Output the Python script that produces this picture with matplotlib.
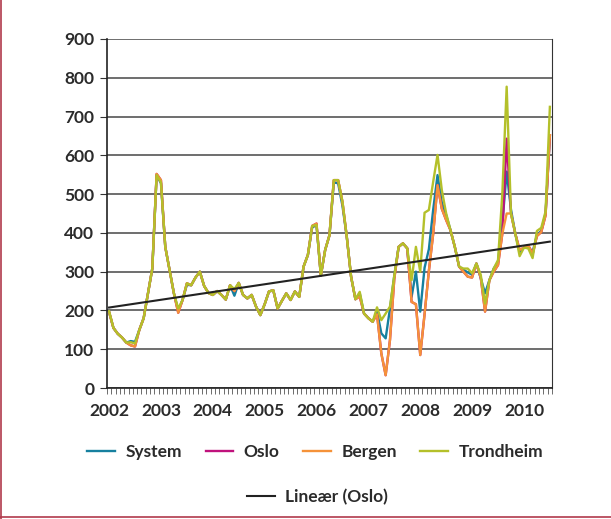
import matplotlib
matplotlib.use("Agg")
import matplotlib.pyplot as plt
from matplotlib.lines import Line2D
import numpy as np

plt.rcParams['font.family'] = ['Lato', 'DejaVu Sans']

# monthly prices, Jan 2002 - Jul 2010
system = [196, 155, 140, 130, 117, 121, 119, 150, 180, 244,
          308, 549, 528, 364, 304, 244, 200, 227, 266, 265,
          285, 300, 263, 245, 240, 250, 240, 228, 265, 238,
          271, 240, 231, 240, 210, 188, 216, 249, 252, 205,
          225, 244, 227, 249, 235, 313, 343, 414, 420, 290,
          356, 394, 530, 528, 470, 390, 287, 229, 244, 192,
          180, 171, 198, 141, 128, 205, 290, 364, 373, 360,
          235, 300, 197, 310, 358, 460, 549, 478, 446, 407,
          364, 313, 305, 298, 292, 321, 283, 244, 278, 308,
          325, 424, 558, 460, 398, 350, 362, 365, 350, 395,
          405, 450, 650]
bergen = [196, 155, 140, 130, 117, 110, 107, 150, 180, 244,
          308, 552, 536, 364, 304, 244, 194, 227, 270, 265,
          285, 300, 263, 245, 240, 250, 240, 228, 265, 250,
          271, 240, 231, 240, 210, 188, 216, 249, 252, 205,
          225, 244, 227, 249, 235, 313, 343, 418, 424, 290,
          356, 394, 536, 536, 480, 390, 287, 229, 236, 192,
          180, 171, 190, 89, 33, 124, 282, 364, 373, 360,
          222, 216, 85, 190, 302, 398, 523, 462, 433, 407,
          364, 313, 300, 287, 285, 321, 285, 197, 278, 300,
          317, 398, 450, 450, 398, 356, 362, 368, 345, 392,
          402, 445, 652]
oslo = list(bergen)
oslo[92] = 643
trondheim = [198, 155, 140, 130, 117, 118, 115, 150, 180, 244,
             308, 549, 530, 364, 304, 244, 205, 227, 270, 265,
             285, 300, 263, 245, 240, 250, 240, 228, 265, 255,
             271, 240, 231, 240, 210, 188, 216, 249, 252, 205,
             225, 244, 227, 249, 235, 313, 343, 418, 420, 290,
             356, 394, 536, 536, 480, 390, 287, 229, 248, 192,
             180, 171, 208, 175, 192, 210, 290, 364, 373, 360,
             278, 364, 300, 452, 459, 532, 601, 510, 450, 407,
             364, 313, 308, 308, 296, 321, 292, 218, 278, 308,
             330, 502, 777, 450, 398, 340, 362, 360, 335, 405,
             413, 455, 725]
year_labels = ['2002', '2003', '2004', '2005', '2006', '2007', '2008', '2009', '2010']

x = np.arange(len(system))

fig = plt.figure(figsize=(6.11, 5.19), dpi=100)
ax = fig.add_axes([0.175, 0.2524, 0.7285, 0.6725])

ax.set_ylim(0, 900)
ax.set_xlim(-0.5, len(x) - 0.5)
ax.set_yticks(range(0, 1000, 100))
ax.yaxis.grid(True, color='#555555', linewidth=1.2)
ax.set_axisbelow(True)

l1, = ax.plot(x, system, color='#16809f', lw=1.7)
l2, = ax.plot(x, oslo, color='#c0127c', lw=1.7)
l3, = ax.plot(x, bergen, color='#f59239', lw=1.7)
l4, = ax.plot(x, trondheim, color='#b4c02a', lw=1.7)

# linear trend on Oslo
k, m = np.polyfit(x, oslo, 1)
l5, = ax.plot(x, k * x + m, color='#222222', lw=1.5)

for s in ['left', 'bottom']:
    ax.spines[s].set_color('#222222')
    ax.spines[s].set_linewidth(1.2)
ax.spines['right'].set_color('#333333')
ax.spines['top'].set_visible(False)

ax.set_xticks(np.arange(0, len(x), 12))
ax.set_xticklabels(year_labels)
ax.set_xticks(np.arange(-0.5, len(x), 1), minor=True)
ax.tick_params(axis='x', which='major', length=0, pad=11)
ax.tick_params(axis='x', which='minor', length=4, color='#555555', direction='out')
ax.tick_params(axis='y', length=5, color='#333333', pad=4)
for lab in ax.get_xticklabels() + ax.get_yticklabels():
    lab.set_fontsize(12.5)
    lab.set_fontweight('bold')
    lab.set_color('#2b2b2b')

leg1 = fig.legend([l1, l2, l3, l4], ['System', 'Oslo', 'Bergen', 'Trondheim'],
                  loc='center', bbox_to_anchor=(0.516, 0.129), ncol=4, frameon=False,
                  handlelength=1.6, columnspacing=1.35, handletextpad=0.6,
                  prop={'size': 12.5, 'weight': 'bold'})
for t in leg1.get_texts():
    t.set_color('#2b2b2b')
leg2 = fig.legend([l5], ['Lineær (Oslo)'], loc='center', bbox_to_anchor=(0.52, 0.043),
                  frameon=False, handlelength=1.6, handletextpad=0.6,
                  prop={'size': 12.5, 'weight': 'bold'})
for t in leg2.get_texts():
    t.set_color('#2b2b2b')

# outer frame
fig.add_artist(Line2D([0.002, 0.002], [0, 1], transform=fig.transFigure, color='#b03a4c', lw=1.2))
fig.add_artist(Line2D([0, 1], [0.004, 0.004], transform=fig.transFigure, color='#b03a4c', lw=1.2))

fig.savefig('out.png', dpi=100)
